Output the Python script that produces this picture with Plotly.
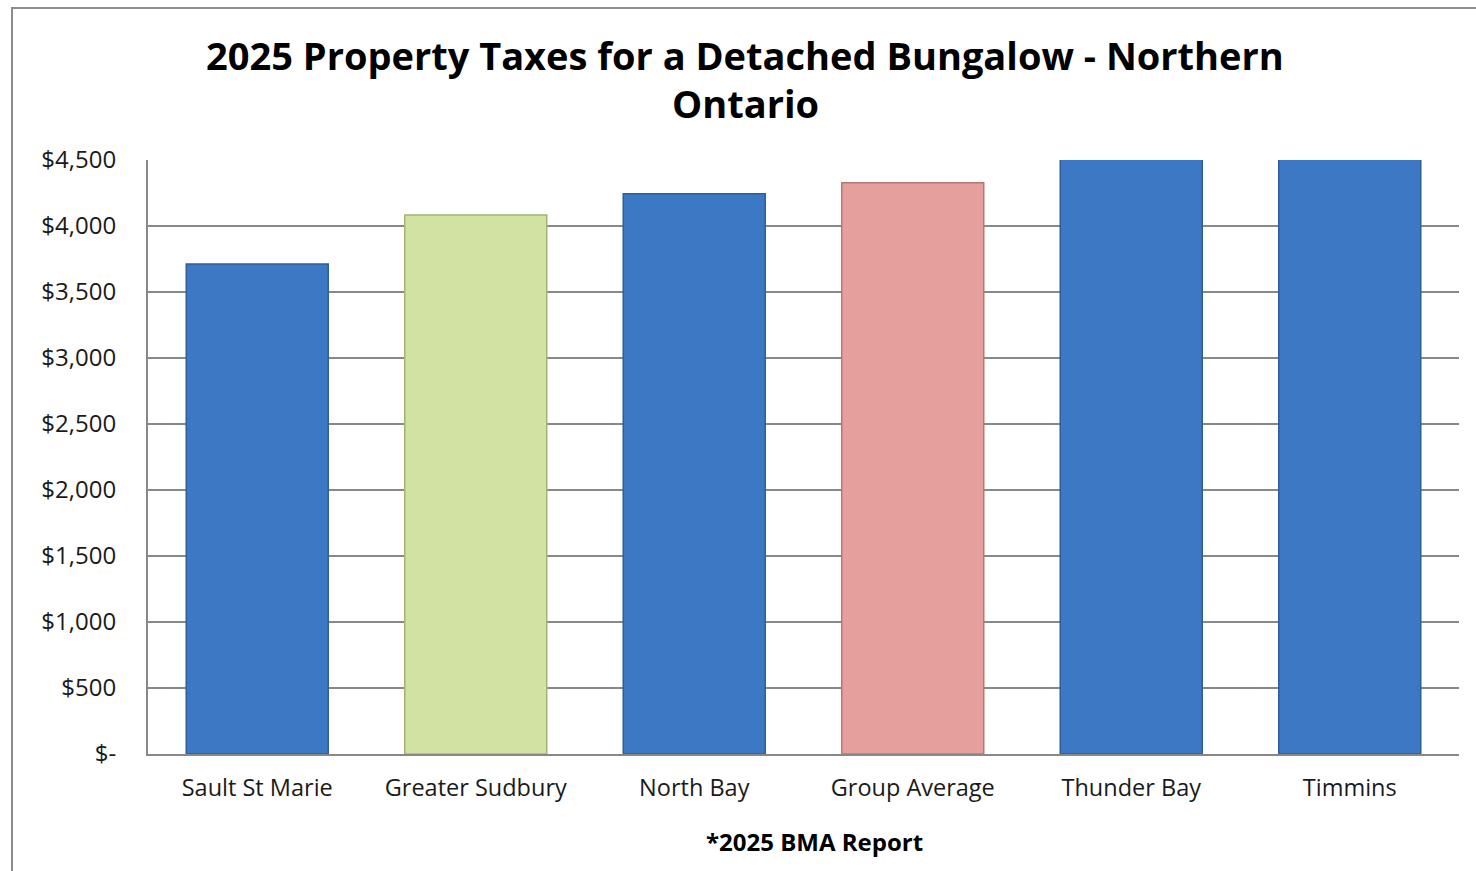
import plotly.graph_objects as go

categories = ["Sault St Marie", "Greater Sudbury", "North Bay", "Group Average", "Thunder Bay", "Timmins"]
taxes = [3712, 4083, 4244, 4328, 4760, 4841]
bar_colors = ["#3C78C4", "#D1E2A3", "#3C78C4", "#E59F9D", "#3C78C4", "#3C78C4"]
bar_lines = ["#2F5E9A", "#A3B573", "#2F5E9A", "#B87775", "#2F5E9A", "#2F5E9A"]
tick_vals = [0, 500, 1000, 1500, 2000, 2500, 3000, 3500, 4000, 4500]
tick_text = ["$-", "$500", "$1,000", "$1,500", "$2,000", "$2,500", "$3,000", "$3,500", "$4,000", "$4,500"]
title_lines = ["2025 Property Taxes for a Detached Bungalow - Northern", "Ontario"]
source_note = "*2025 BMA Report"

W, H = 1476, 871
L, R, T, B = 148, 17, 160, 117
pw, ph = W - L - R, H - T - B
FONT = "Open Sans, sans-serif"


def px_to_paper_x(px):
    return (px - L) / pw


def px_to_paper_y(py):
    return ((T + ph) - py) / ph


fig = go.Figure(go.Bar(
    x=categories, y=taxes,
    marker=dict(color=bar_colors, line=dict(color=bar_lines, width=1.5)),
    width=0.65, cliponaxis=True,
))

fig.update_layout(
    width=W, height=H,
    margin=dict(l=L, r=R, t=T, b=B),
    paper_bgcolor="white", plot_bgcolor="white",
    showlegend=False,
    font=dict(family=FONT, color="#1a1a1a"),
    xaxis=dict(
        showgrid=False, showline=True, linecolor="#888888", linewidth=2,
        tickfont=dict(size=23.5, color="#1a1a1a"), ticks="", ticklabelstandoff=12,
    ),
    yaxis=dict(
        range=[0, 4500], tickvals=tick_vals, ticktext=tick_text,
        showgrid=True, gridcolor="#888888", gridwidth=2,
        showline=True, linecolor="#888888", linewidth=2,
        zeroline=False, ticks="", ticklabelstandoff=25,
        tickfont=dict(size=24, color="#1a1a1a"),
    ),
    bargap=0.35,
)

for line_text, yc in zip(title_lines, [55, 103]):
    fig.add_annotation(
        text="<b>" + line_text + "</b>", xref="paper", yref="paper",
        x=px_to_paper_x(745), y=px_to_paper_y(yc), xanchor="center", yanchor="middle",
        showarrow=False, font=dict(family=FONT, size=38, color="black"),
    )

fig.add_annotation(
    text="<b>" + source_note + "</b>", xref="paper", yref="paper",
    x=px_to_paper_x(814), y=px_to_paper_y(841), xanchor="center", yanchor="middle",
    showarrow=False, font=dict(family=FONT, size=24, color="black"),
)

# outer chart border (top and left visible, others off-canvas)
fig.add_shape(
    type="rect", xref="paper", yref="paper",
    x0=px_to_paper_x(12), x1=px_to_paper_x(W + 20),
    y0=px_to_paper_y(H + 20), y1=px_to_paper_y(8),
    line=dict(color="#8C8C8C", width=2), fillcolor="rgba(0,0,0,0)", layer="below",
)

fig.write_html("out.html")
